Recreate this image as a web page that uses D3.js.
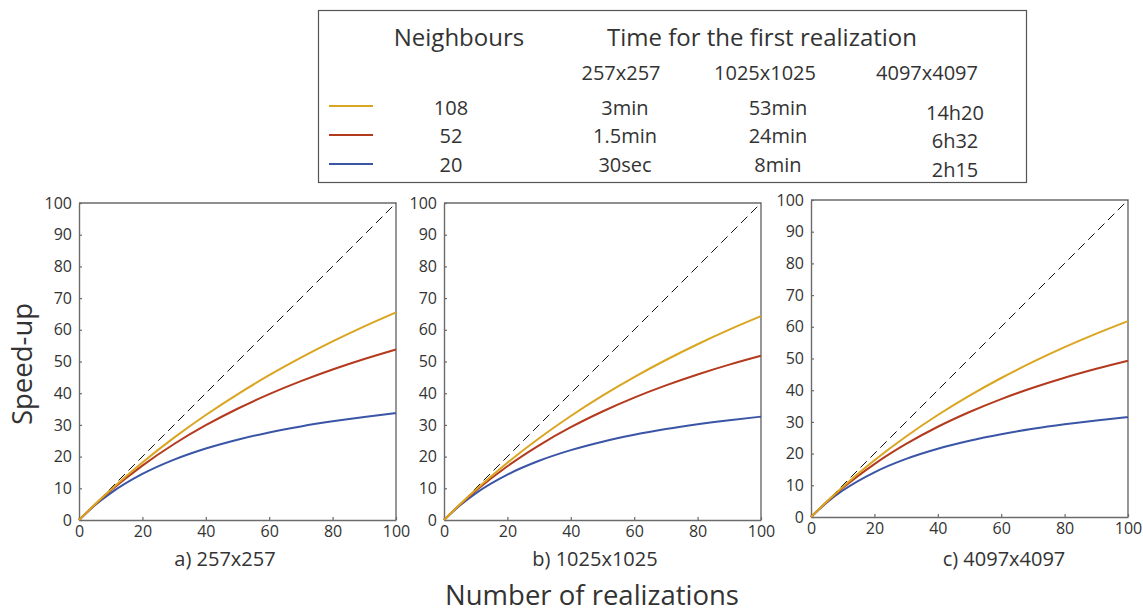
<!DOCTYPE html>
<html>
<head>
<meta charset="utf-8">
<script src="https://cdn.jsdelivr.net/npm/d3@7"></script>
<style>
  body { margin: 0; background: #fff; }
  svg { display: block; font-family: 'Open Sans', sans-serif; }
</style>
</head>
<body>
<svg id="chart" width="1143" height="615"></svg>
<script>
// number of realizations sampled along the x axis
const realizations = [0, 5, 10, 20, 30, 40, 50, 60, 70, 80, 90, 100]

// speed-up, one array per neighbour count
const a108 = [0, 4.9, 9.54, 18.16, 25.99, 33.13, 39.66, 45.67, 51.2, 56.33, 61.08, 65.5]
const a52 = [0, 4.83, 9.28, 17.17, 23.97, 29.89, 35.09, 39.7, 43.8, 47.48, 50.8, 53.81]
const a20 = [0, 4.63, 8.48, 14.52, 19.03, 22.54, 25.33, 27.62, 29.52, 31.13, 32.51, 33.7]

const b108 = [0, 4.89, 9.52, 18.07, 25.8, 32.82, 39.22, 45.08, 50.47, 55.44, 60.04, 64.3]
const b52 = [0, 4.82, 9.22, 16.97, 23.57, 29.27, 34.23, 38.6, 42.46, 45.91, 49.01, 51.8]
const b20 = [0, 4.61, 8.42, 14.32, 18.68, 22.04, 24.71, 26.88, 28.68, 30.19, 31.48, 32.6]

const c108 = [0, 4.88, 9.47, 17.88, 25.4, 32.17, 38.29, 43.85, 48.92, 53.58, 57.85, 61.8]
const c52 = [0, 4.8, 9.15, 16.7, 23.05, 28.47, 33.13, 37.2, 40.77, 43.94, 46.76, 49.3]
const c20 = [0, 4.6, 8.35, 14.11, 18.33, 21.54, 24.08, 26.13, 27.83, 29.25, 30.46, 31.5]

const panelNames = ['a) 257x257', 'b) 1025x1025', 'c) 4097x4097']
const axisTicks = [0, 10, 20, 30, 40, 50, 60, 70, 80, 90, 100]
const xTicks = [0, 20, 40, 60, 80, 100]

// legend table
const neighbours = ['108', '52', '20']
const gridSizes = ['257x257', '1025x1025', '4097x4097']
const times257 = ['3min', '1.5min', '30sec']
const times1025 = ['53min', '24min', '8min']
const times4097 = ['14h20', '6h32', '2h15']

const colors = ['#DAA520', '#B43A1E', '#3A55A6']
const textColor = '#333'
const axisColor = '#6b6b6b'

const svg = d3.select('#chart')

const panels = [
  { left: 79, top: 203, series: [a108, a52, a20], captionX: 225 },
  { left: 444, top: 203, series: [b108, b52, b20], captionX: 595 },
  { left: 811, top: 200, series: [c108, c52, c20], captionX: 1004 }
]
const size = 317

panels.forEach((p, i) => {
  const x = d3.scaleLinear().domain([0, 100]).range([0, size])
  const y = d3.scaleLinear().domain([0, 100]).range([size, 0])
  const g = svg.append('g').attr('transform', `translate(${p.left}, ${p.top})`)

  // box top and right
  g.append('path')
    .attr('d', `M0,0H${size}V${size}`)
    .attr('fill', 'none')
    .attr('stroke', axisColor)
    .attr('stroke-width', 1.4)

  const yAxis = g.append('g')
    .call(d3.axisLeft(y).tickValues(axisTicks).tickSizeInner(-3).tickSizeOuter(0).tickPadding(7))
  const xAxis = g.append('g')
    .attr('transform', `translate(0, ${size})`)
    .call(d3.axisBottom(x).tickValues(xTicks).tickSizeInner(-3).tickSizeOuter(0).tickPadding(6))

  ;[xAxis, yAxis].forEach(ax => {
    ax.select('.domain').attr('stroke', axisColor).attr('stroke-width', 1.4)
    ax.selectAll('.tick line').attr('stroke', axisColor).attr('stroke-width', 1.2)
    ax.selectAll('.tick text')
      .attr('fill', textColor)
      .style('font-size', '16px')
      .style('font-family', "'Open Sans', sans-serif")
  })

  // ideal speed-up diagonal
  g.append('path')
    .datum([0, 100])
    .attr('d', d3.line().x(d => x(d)).y(d => y(d)))
    .attr('stroke', '#111')
    .attr('stroke-width', 1)
    .attr('stroke-dasharray', '9,5')
    .attr('fill', 'none')

  const line = d3.line()
    .x((d, k) => x(realizations[k]))
    .y(d => y(d))
    .curve(d3.curveMonotoneX)

  // draw blue first so yellow ends on top
  p.series.slice().reverse().forEach((s, k) => {
    g.append('path')
      .datum(s)
      .attr('d', line)
      .attr('fill', 'none')
      .attr('stroke', colors[2 - k])
      .attr('stroke-width', 2)
  })

  svg.append('text')
    .attr('x', p.captionX)
    .attr('y', 566)
    .attr('text-anchor', 'middle')
    .attr('fill', textColor)
    .style('font-size', '20px')
    .text(panelNames[i])
})

// axis titles
svg.append('text')
  .attr('x', 592)
  .attr('y', 605)
  .attr('text-anchor', 'middle')
  .attr('fill', textColor)
  .style('font-size', '27.5px')
  .text('Number of realizations')

svg.append('text')
  .attr('transform', 'translate(32, 364) rotate(-90)')
  .attr('text-anchor', 'middle')
  .attr('fill', textColor)
  .style('font-size', '27.5px')
  .text('Speed-up')

// legend table
const legend = svg.append('g')
legend.append('rect')
  .attr('x', 318.5).attr('y', 10.5)
  .attr('width', 708).attr('height', 172)
  .attr('fill', '#fff')
  .attr('stroke', '#555')
  .attr('stroke-width', 1.2)

const addText = (x, y, t, fs) => legend.append('text')
  .attr('x', x).attr('y', y)
  .attr('text-anchor', 'middle')
  .attr('fill', textColor)
  .style('font-size', fs + 'px')
  .text(t)

addText(459, 46, 'Neighbours', 24)
addText(762, 46, 'Time for the first realization', 24)
const headerX = [621, 765, 927]
gridSizes.forEach((t, i) => addText(headerX[i], 80, t, 20))

const rowY = [115, 143, 172]
const swatchY = [106, 135, 164]
neighbours.forEach((n, i) => {
  legend.append('line')
    .attr('x1', 329).attr('x2', 373)
    .attr('y1', swatchY[i]).attr('y2', swatchY[i])
    .attr('stroke', colors[i])
    .attr('stroke-width', 2)
  addText(451, rowY[i], n, 20)
  addText(625, rowY[i], times257[i], 20)
  addText(778, rowY[i], times1025[i], 20)
  addText(955, rowY[i] + 5, times4097[i], 20)
})
</script>
</body>
</html>
